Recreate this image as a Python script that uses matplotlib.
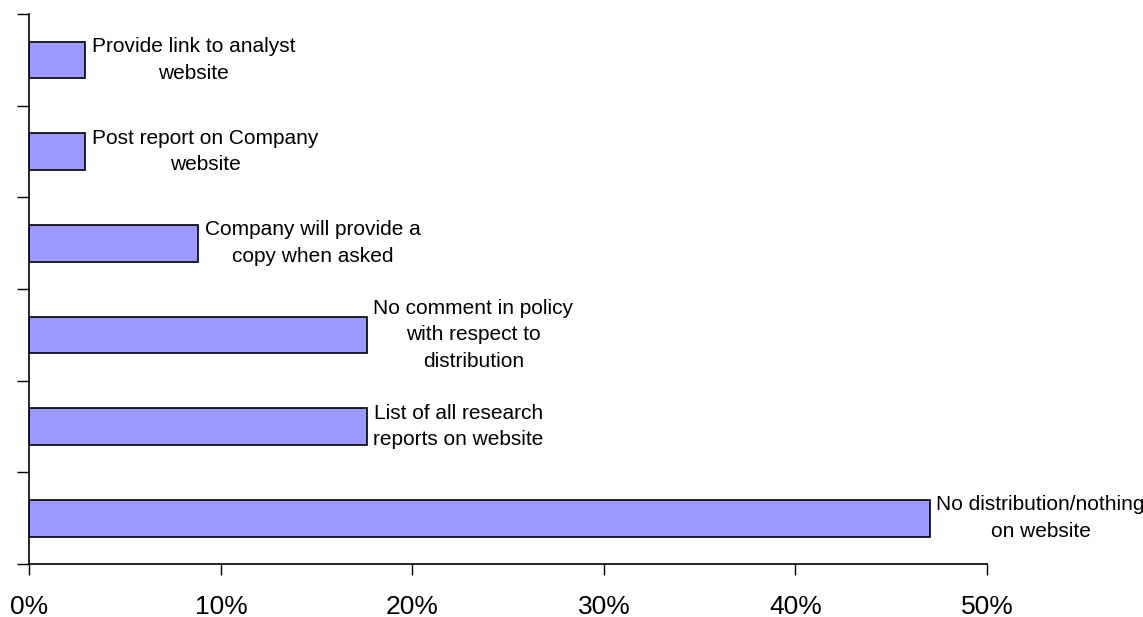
import matplotlib
matplotlib.use("Agg")
import matplotlib.pyplot as plt
import numpy as np

plt.rcParams['font.family'] = ['Liberation Sans', 'DejaVu Sans']

# top to bottom as in the picture
labels = [
    "Provide link to analyst\nwebsite",
    "Post report on Company\nwebsite",
    "Company will provide a\ncopy when asked",
    "No comment in policy\nwith respect to\ndistribution",
    "List of all research\nreports on website",
    "No distribution/nothing\non website",
]
shares = [2.9, 2.9, 8.8, 17.6, 17.6, 47.0]
x_ticks = [0, 10, 20, 30, 40, 50]
x_ticklabels = ["0%", "10%", "20%", "30%", "40%", "50%"]

fig = plt.figure(figsize=(11.43, 6.17), dpi=100)
ax = fig.add_axes([0.0258, 0.0859, 0.8377, 0.8914])

pos = np.arange(len(shares))[::-1]
ax.barh(pos, shares, height=0.4, color='#9999FF', edgecolor='black', linewidth=1.2)

for p, v, lab in zip(pos, shares, labels):
    ax.text(v + 0.35, p, lab, ha='left', va='center', multialignment='center',
            fontsize=15, linespacing=1.5)

ax.set_xlim(0, 50)
ax.set_ylim(-0.5, len(shares) - 0.5)
ax.set_xticks(x_ticks)
ax.set_xticklabels(x_ticklabels, fontsize=19)
ax.set_yticks(np.arange(-0.5, len(shares), 1.0))
ax.set_yticklabels([])
ax.tick_params(axis='x', direction='out', length=8, width=1, pad=14)
ax.tick_params(axis='y', direction='out', length=9, width=1)

for s in ['top', 'right']:
    ax.spines[s].set_visible(False)
for s in ['left', 'bottom']:
    ax.spines[s].set_linewidth(1.2)

fig.savefig("out.png", dpi=100)
